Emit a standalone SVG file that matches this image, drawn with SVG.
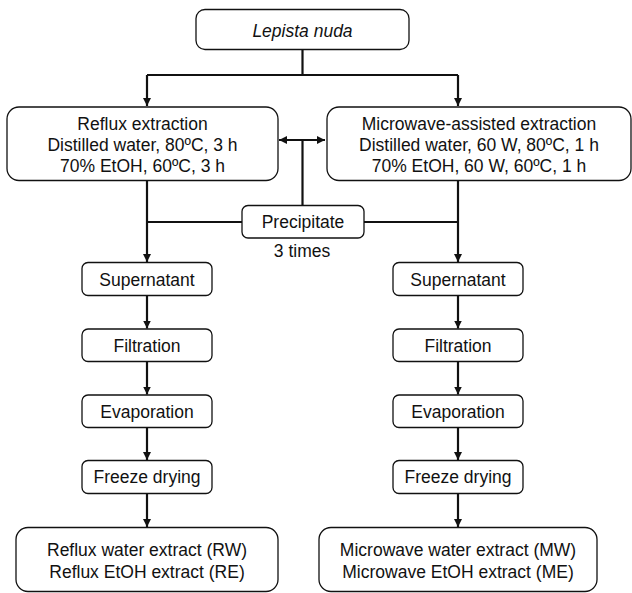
<svg xmlns="http://www.w3.org/2000/svg" width="632" height="593" viewBox="0 0 632 593">
<defs>
<style>
.box{fill:#fff;stroke:#111;stroke-width:1.3}
.t{font-family:"Liberation Sans",Arial,sans-serif;font-size:17.5px;fill:#111;text-anchor:middle}
.it{font-style:italic}
.c{fill:none;stroke:#111;stroke-width:2.2}
</style>
<marker id="ah" viewBox="0 0 10 10" refX="10" refY="5" markerWidth="8" markerHeight="8" markerUnits="userSpaceOnUse" orient="auto-start-reverse">
<path d="M0,0 L10,5 L0,10 z" fill="#111"/>
</marker>
</defs>
<rect width="632" height="593" fill="#fff"/>
<g id="connectors">
<path class="c" d="M302.5,49.5 V75"/>
<path class="c" d="M147,75 H458"/>
<path class="c" d="M147,75 V106" marker-end="url(#ah)"/>
<path class="c" d="M458,75 V106" marker-end="url(#ah)"/>
<path class="c" d="M279,140 H325" marker-start="url(#ah)" marker-end="url(#ah)"/>
<path class="c" d="M302.5,140 V205.5"/>
<path class="c" d="M147,222 H242"/>
<path class="c" d="M364,222 H458"/>
<path class="c" d="M147,180.5 V262" marker-end="url(#ah)"/>
<path class="c" d="M458,180.5 V262" marker-end="url(#ah)"/>
<path class="c" d="M147,295.5 V328.5" marker-end="url(#ah)"/>
<path class="c" d="M458,295.5 V328.5" marker-end="url(#ah)"/>
<path class="c" d="M147,361.5 V394.5" marker-end="url(#ah)"/>
<path class="c" d="M458,361.5 V394.5" marker-end="url(#ah)"/>
<path class="c" d="M147,427.5 V460" marker-end="url(#ah)"/>
<path class="c" d="M458,427.5 V460" marker-end="url(#ah)"/>
<path class="c" d="M147,493.5 V527" marker-end="url(#ah)"/>
<path class="c" d="M458,493.5 V527" marker-end="url(#ah)"/>
</g>
<g id="lepista">
<rect class="box" x="196" y="9.5" width="213" height="40" rx="9"/>
<text class="t it" x="302.5" y="36.5">Lepista nuda</text>
</g>
<g id="reflux">
<rect class="box" x="7" y="107" width="271" height="73.5" rx="12"/>
<text class="t" x="142.5" y="130">Reflux extraction</text>
<text class="t" x="142.5" y="150.5">Distilled water, 80ºC, 3 h</text>
<text class="t" x="142.5" y="171.5">70% EtOH, 60ºC, 3 h</text>
</g>
<g id="microwave">
<rect class="box" x="327" y="107" width="304" height="73.5" rx="12"/>
<text class="t" x="479" y="130">Microwave-assisted extraction</text>
<text class="t" x="479" y="150.5">Distilled water, 60 W, 80ºC, 1 h</text>
<text class="t" x="479" y="171.5">70% EtOH, 60 W, 60ºC, 1 h</text>
</g>
<g id="precipitate">
<rect class="box" x="242" y="205.5" width="122" height="32.5" rx="6"/>
<text class="t" x="303" y="228">Precipitate</text>
<text class="t" x="302" y="257">3 times</text>
</g>
<g id="supernatant-r">
<rect class="box" x="82" y="262.5" width="130" height="33" rx="6"/>
<text class="t" x="147" y="285.5">Supernatant</text>
</g>
<g id="supernatant-m">
<rect class="box" x="393" y="262.5" width="130" height="33" rx="6"/>
<text class="t" x="458" y="285.5">Supernatant</text>
</g>
<g id="filtration-r">
<rect class="box" x="82" y="329" width="130" height="32.5" rx="6"/>
<text class="t" x="147" y="351.5">Filtration</text>
</g>
<g id="filtration-m">
<rect class="box" x="393" y="329" width="130" height="32.5" rx="6"/>
<text class="t" x="458" y="351.5">Filtration</text>
</g>
<g id="evaporation-r">
<rect class="box" x="82" y="395" width="130" height="32.5" rx="6"/>
<text class="t" x="147" y="417.5">Evaporation</text>
</g>
<g id="evaporation-m">
<rect class="box" x="393" y="395" width="130" height="32.5" rx="6"/>
<text class="t" x="458" y="417.5">Evaporation</text>
</g>
<g id="freeze-r">
<rect class="box" x="82" y="460.5" width="130" height="33" rx="6"/>
<text class="t" x="147" y="483">Freeze drying</text>
</g>
<g id="freeze-m">
<rect class="box" x="393" y="460.5" width="130" height="33" rx="6"/>
<text class="t" x="458" y="483">Freeze drying</text>
</g>
<g id="reflux-extracts">
<rect class="box" x="16" y="527.5" width="262" height="64" rx="12"/>
<text class="t" x="147" y="556">Reflux water extract (RW)</text>
<text class="t" x="147" y="577.5">Reflux EtOH extract (RE)</text>
</g>
<g id="microwave-extracts">
<rect class="box" x="319" y="527.5" width="278" height="64" rx="12"/>
<text class="t" x="458" y="556">Microwave water extract (MW)</text>
<text class="t" x="458" y="577.5">Microwave EtOH extract (ME)</text>
</g>
</svg>
